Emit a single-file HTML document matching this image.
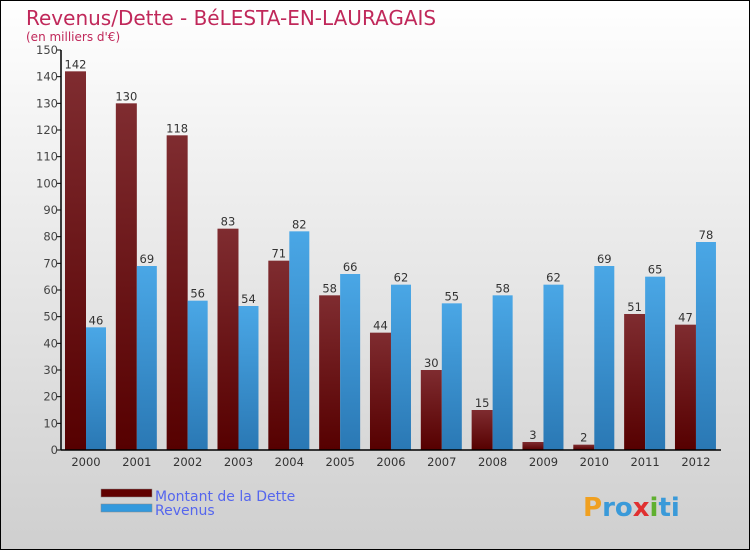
<!DOCTYPE html>
<html><head><meta charset="utf-8"><style>
body{margin:0}
#wrap{position:relative;width:748px;height:548px;border:1px solid #000;background:linear-gradient(#fff,#f0f0f0 30%,#cfcfcf);font-family:"DejaVu Sans","Liberation Sans",sans-serif;overflow:hidden}
</style></head><body>
<div id="wrap">
<svg id="c" width="748" height="548"></svg>
</div>
<script>
const years=["2000","2001","2002","2003","2004","2005","2006","2007","2008","2009","2010","2011","2012"];
const debt=[142,130,118,83,71,58,44,30,15,3,2,51,47];
const revenus=[46,69,56,54,82,66,62,55,58,62,69,65,78];
const yTicks=[0,10,20,30,40,50,60,70,80,90,100,110,120,130,140,150];
const NS="http://www.w3.org/2000/svg";
const svg=document.getElementById('c');
const x0=60,y0=449,ppu=400/150,gw=50.83;
function y(v){return y0-v*ppu;}
function el(t,a,p){const e=document.createElementNS(NS,t);for(const k in a)e.setAttribute(k,a[k]);(p||svg).appendChild(e);return e;}
const defs=el('defs',{});
const g1=el('linearGradient',{id:'gd',x1:0,y1:0,x2:0,y2:1},defs);
el('stop',{offset:0,'stop-color':'#7f2c30'},g1);el('stop',{offset:1,'stop-color':'#560000'},g1);
const g2=el('linearGradient',{id:'gr',x1:0,y1:0,x2:0,y2:1},defs);
el('stop',{offset:0,'stop-color':'#4aa7e6'},g2);el('stop',{offset:1,'stop-color':'#2a78b4'},g2);
let t=el('text',{x:25,y:24,'font-size':20,fill:'#c0285a'});t.textContent='Revenus/Dette - BéLESTA-EN-LAURAGAIS';

t=el('text',{x:25,y:40,'font-size':12,fill:'#c0285a'});t.textContent="(en milliers d'€)";

yTicks.forEach(v=>{
 el('line',{x1:x0-4,x2:x0,y1:y(v),y2:y(v),stroke:'#000'});
 const tx=el('text',{x:x0-3,y:y(v)+4,'font-size':11.5,fill:'#444','text-anchor':'end'});tx.textContent=v;
 
});
years.forEach((yr,i)=>{
 const gx=x0+4+i*gw;
 const bd=el('rect',{x:gx,y:y(debt[i]),width:21,height:debt[i]*ppu,fill:'url(#gd)'});
 
 const br=el('rect',{x:gx+21,y:y(revenus[i]),width:20,height:revenus[i]*ppu,fill:'url(#gr)'});
 
 let l=el('text',{x:gx+10.5,y:y(debt[i])-3,'font-size':11.5,fill:'#333','text-anchor':'middle'});l.textContent=debt[i];
 
 l=el('text',{x:gx+31,y:y(revenus[i])-3,'font-size':11.5,fill:'#333','text-anchor':'middle'});l.textContent=revenus[i];
 
 l=el('text',{x:gx+21,y:y0+16,'font-size':11.5,fill:'#333','text-anchor':'middle'});l.textContent=yr;
 
});
el('line',{x1:x0,x2:x0,y1:y(150),y2:y0,stroke:'#000','stroke-width':1.5});
el('line',{x1:x0,x2:720,y1:y0,y2:y0,stroke:'#000','stroke-width':1.5});
let r=el('rect',{x:100,y:488,width:51,height:8,fill:'#600000',stroke:'#888','stroke-width':0.5});

r=el('rect',{x:100,y:503,width:51,height:8,fill:'#3399dd',stroke:'#888','stroke-width':0.5});

t=el('text',{x:154,y:500,'font-size':14,fill:'#5566ee'});t.textContent='Montant de la Dette';

t=el('text',{x:154,y:514,'font-size':14,fill:'#5566ee'});t.textContent='Revenus';

t=el('text',{x:582,y:515,'font-size':26,'font-weight':'bold',fill:'#3a9ad9'});
t.innerHTML='<tspan fill="#f0a020">P</tspan><tspan fill="#3a9ad9">ro</tspan><tspan fill="#e03030">x</tspan><tspan fill="#60b030">i</tspan><tspan fill="#3a9ad9">ti</tspan>';

</script>
</body></html>
